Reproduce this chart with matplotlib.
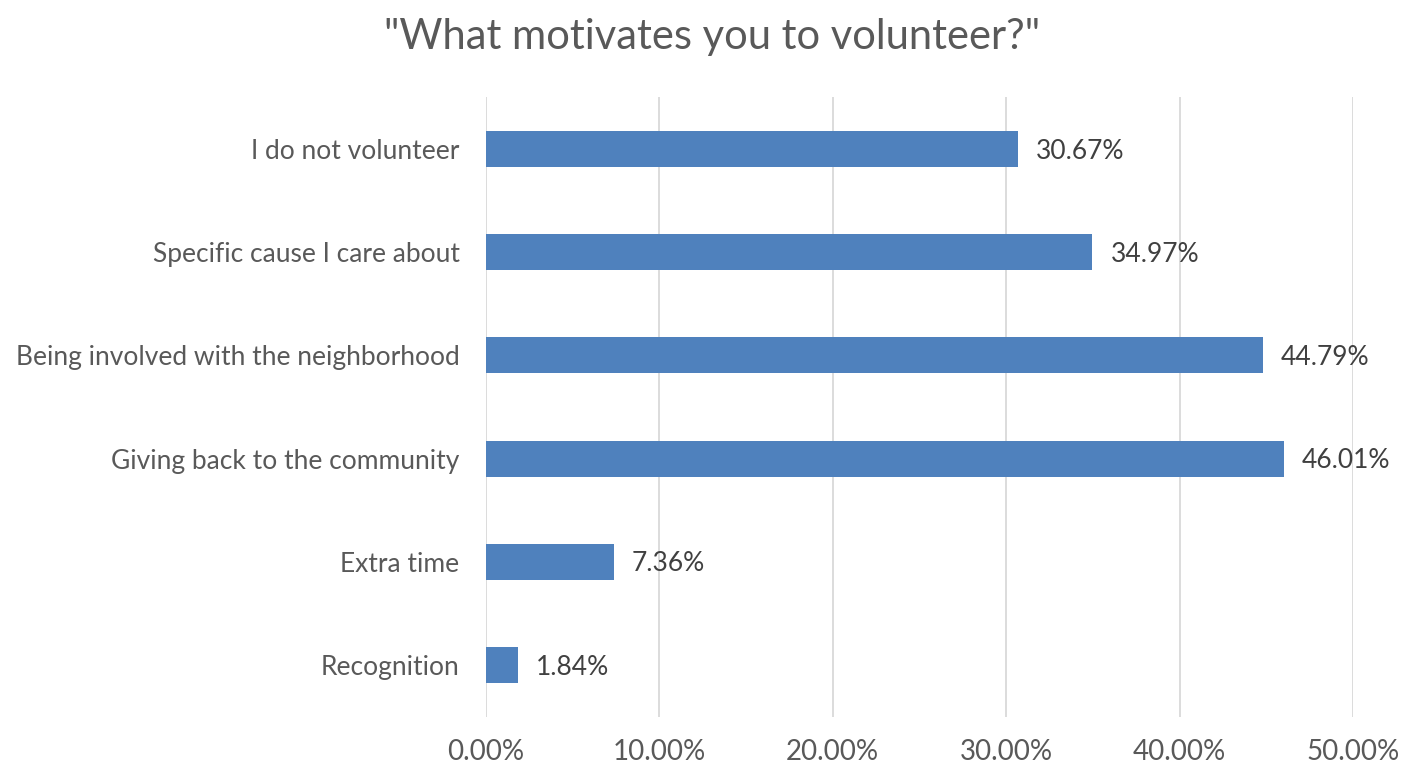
import matplotlib
matplotlib.use("Agg")
import matplotlib.pyplot as plt

categories = ["I do not volunteer", "Specific cause I care about",
              "Being involved with the neighborhood", "Giving back to the community",
              "Extra time", "Recognition"]
values = [30.67, 34.97, 44.79, 46.01, 7.36, 1.84]
xticks = [0, 10, 20, 30, 40, 50]
title = '"What motivates you to volunteer?"'

plt.rcParams['font.family'] = ['Lato', 'DejaVu Sans']
txt = '#595959'

fig = plt.figure(figsize=(14.11, 7.69), dpi=100)
ax = fig.add_axes([0.3444, 0.0681, 0.6145, 0.8052])
y = list(range(len(categories)))
ax.barh(y, values, height=0.35, color='#4F81BD', zorder=3)
ax.set_ylim(len(categories) - 0.5, -0.5)
ax.set_xlim(0, 50)
ax.set_xticks(xticks)
ax.set_xticklabels([f"{t:.2f}%" for t in xticks], fontsize=20, color=txt)
ax.set_yticks(y)
ax.set_yticklabels(categories, fontsize=19, color=txt)
ax.tick_params(axis='y', length=0, pad=19)
ax.tick_params(axis='x', length=0, pad=16)
ax.grid(axis='x', color='#D9D9D9', linewidth=1.3, zorder=0)
for s in ax.spines.values():
    s.set_visible(False)
for yi, v in zip(y, values):
    ax.text(v + 1.05, yi + 0.02, f"{v:.2f}%", va='center', ha='left', fontsize=19, color='#404040')
fig.text(0.505, 0.952, title, ha='center', va='center', fontsize=30, color=txt)
fig.savefig("out.png", dpi=100)
